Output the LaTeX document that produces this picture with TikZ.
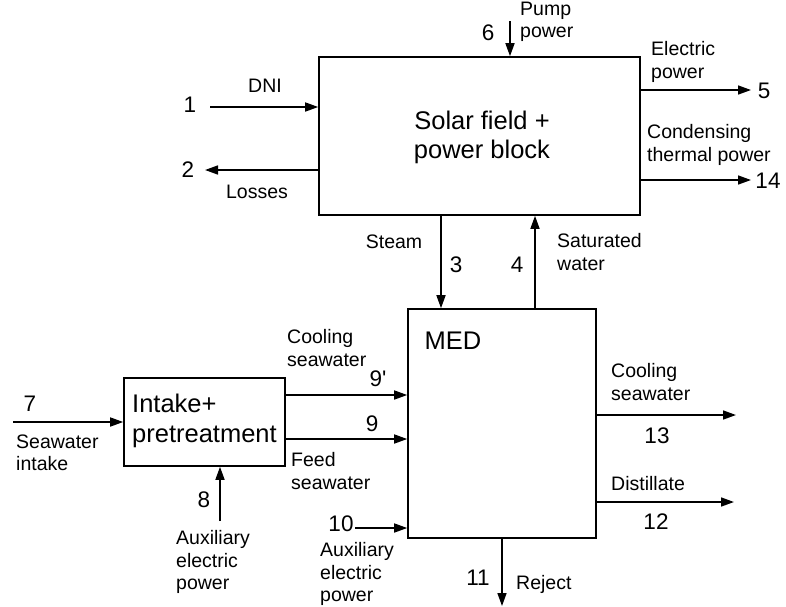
\documentclass[tikz,border=0pt]{standalone}
\usepackage{fontspec}
\setmainfont{Liberation Sans}
\usetikzlibrary{arrows.meta}
\begin{document}
\begin{tikzpicture}[x=1pt,y=-1pt,
  lbl/.style={font=\fontsize{19.5}{22.5}\selectfont, align=left, inner sep=0pt},
  num/.style={font=\fontsize{22.5}{24}\selectfont, inner sep=0pt},
  boxtxt/.style={font=\fontsize{25.5}{29}\selectfont, inner sep=0pt},
  blk/.style={draw, line width=1.6pt, rectangle, inner sep=0pt},
  arr/.style={line width=1.6pt, -{Triangle[length=13pt,width=9pt]}},
  ln/.style={line width=1.6pt}]
\useasboundingbox (0,0) rectangle (786,606);
% boxes
\node[blk, minimum width=321pt, minimum height=158pt] (solar) at (479.5,136) {};
\node[blk, minimum width=188pt, minimum height=229pt] (med) at (502,423.5) {};
\node[blk, minimum width=161pt, minimum height=88pt] (intake) at (204.5,422) {};
% box texts
\node[boxtxt, align=center] (tsolar) at (482,137) {Solar field +\\power block};
\node[boxtxt] (tmed) at (453,341) {MED};
\node[boxtxt, align=left, anchor=west, font=\fontsize{25.5}{30}\selectfont] (tintake) at (132,421) {Intake+\\pretreatment};
% free ends
\coordinate (c6) at (510,21);
\coordinate (c1) at (210,107);
\coordinate (c2) at (205,170);
\coordinate (c5) at (751,90);
\coordinate (c14) at (751,180);
\coordinate (c13) at (736,415);
\coordinate (c12) at (734,502);
\coordinate (c11) at (502,606);
\coordinate (c7) at (13,422);
\coordinate (c8) at (220,521);
\coordinate (c10) at (355,528);
% connectors
\draw[arr] (c6) -- (c6 |- solar.north);
\draw[arr] (c1) -- (solar.west |- c1);
\draw[arr] (solar.west |- c2) -- (c2);
\draw[arr] (solar.east |- c5) -- (c5);
\draw[arr] (solar.east |- c14) -- (c14);
\draw[arr] (solar.south -| 441,0) -- (med.north -| 441,0);
\draw[arr] (med.north -| 535,0) -- (solar.south -| 535,0);
\draw[arr] (med.east |- c13) -- (c13);
\draw[arr] (med.east |- c12) -- (c12);
\draw[arr] (med.south -| c11) -- (c11);
\draw[arr] (c7) -- (intake.west |- c7);
\draw[arr] (c8) -- (intake.south -| c8);
\draw[arr] (intake.east |- 0,395) -- (med.west |- 0,395);
\draw[arr] (intake.east |- 0,439) -- (med.west |- 0,439);
\draw[arr] (c10) -- (med.west |- c10);
% numbers
\node[num] (n6) at (488,33) {6};
\node[num] (n1) at (190,105) {1};
\node[num] (n2) at (188,170) {2};
\node[num] (n5) at (764,91) {5};
\node[num] (n14) at (768,181) {14};
\node[num] (n3) at (456,265) {3};
\node[num] (n4) at (517,265) {4};
\node[num] (n13) at (657,436) {13};
\node[num] (n12) at (656,522) {12};
\node[num] (n11) at (478,578) {11};
\node[num] (n7) at (30,404) {7};
\node[num] (n8) at (204,500) {8};
\node[num] (n9p) at (378,379) {9\textquotesingle};
\node[num] (n9) at (372,424) {9};
\node[num] (n10) at (341,524) {10};
% labels
\node[lbl, anchor=west] (lpump) at (520,22) {Pump\\power};
\node[lbl] (ldni) at (265,86) {DNI};
\node[lbl] (lloss) at (257,192) {Losses};
\node[lbl, anchor=west] (lelec) at (651,62) {Electric\\power};
\node[lbl, anchor=west] (lcond) at (647,145) {Condensing\\thermal power};
\node[lbl] (lsteam) at (394,242) {Steam};
\node[lbl, anchor=west] (lsat) at (557,252) {Saturated\\water};
\node[lbl, anchor=west] (lcoolo) at (611,382) {Cooling\\seawater};
\node[lbl, anchor=west] (ldist) at (611,484) {Distillate};
\node[lbl, anchor=west] (lrej) at (516,584) {Reject};
\node[lbl, anchor=west] (lsea) at (16,453) {Seawater\\intake};
\node[lbl, anchor=west] (laux1) at (176,562) {Auxiliary\\electric\\power};
\node[lbl, anchor=west] (lcooli) at (287,348) {Cooling\\seawater};
\node[lbl, anchor=west] (lfeed) at (291,471) {Feed\\seawater};
\node[lbl, anchor=west] (laux2) at (320,574) {Auxiliary\\electric\\power};
\end{tikzpicture}
\end{document}
